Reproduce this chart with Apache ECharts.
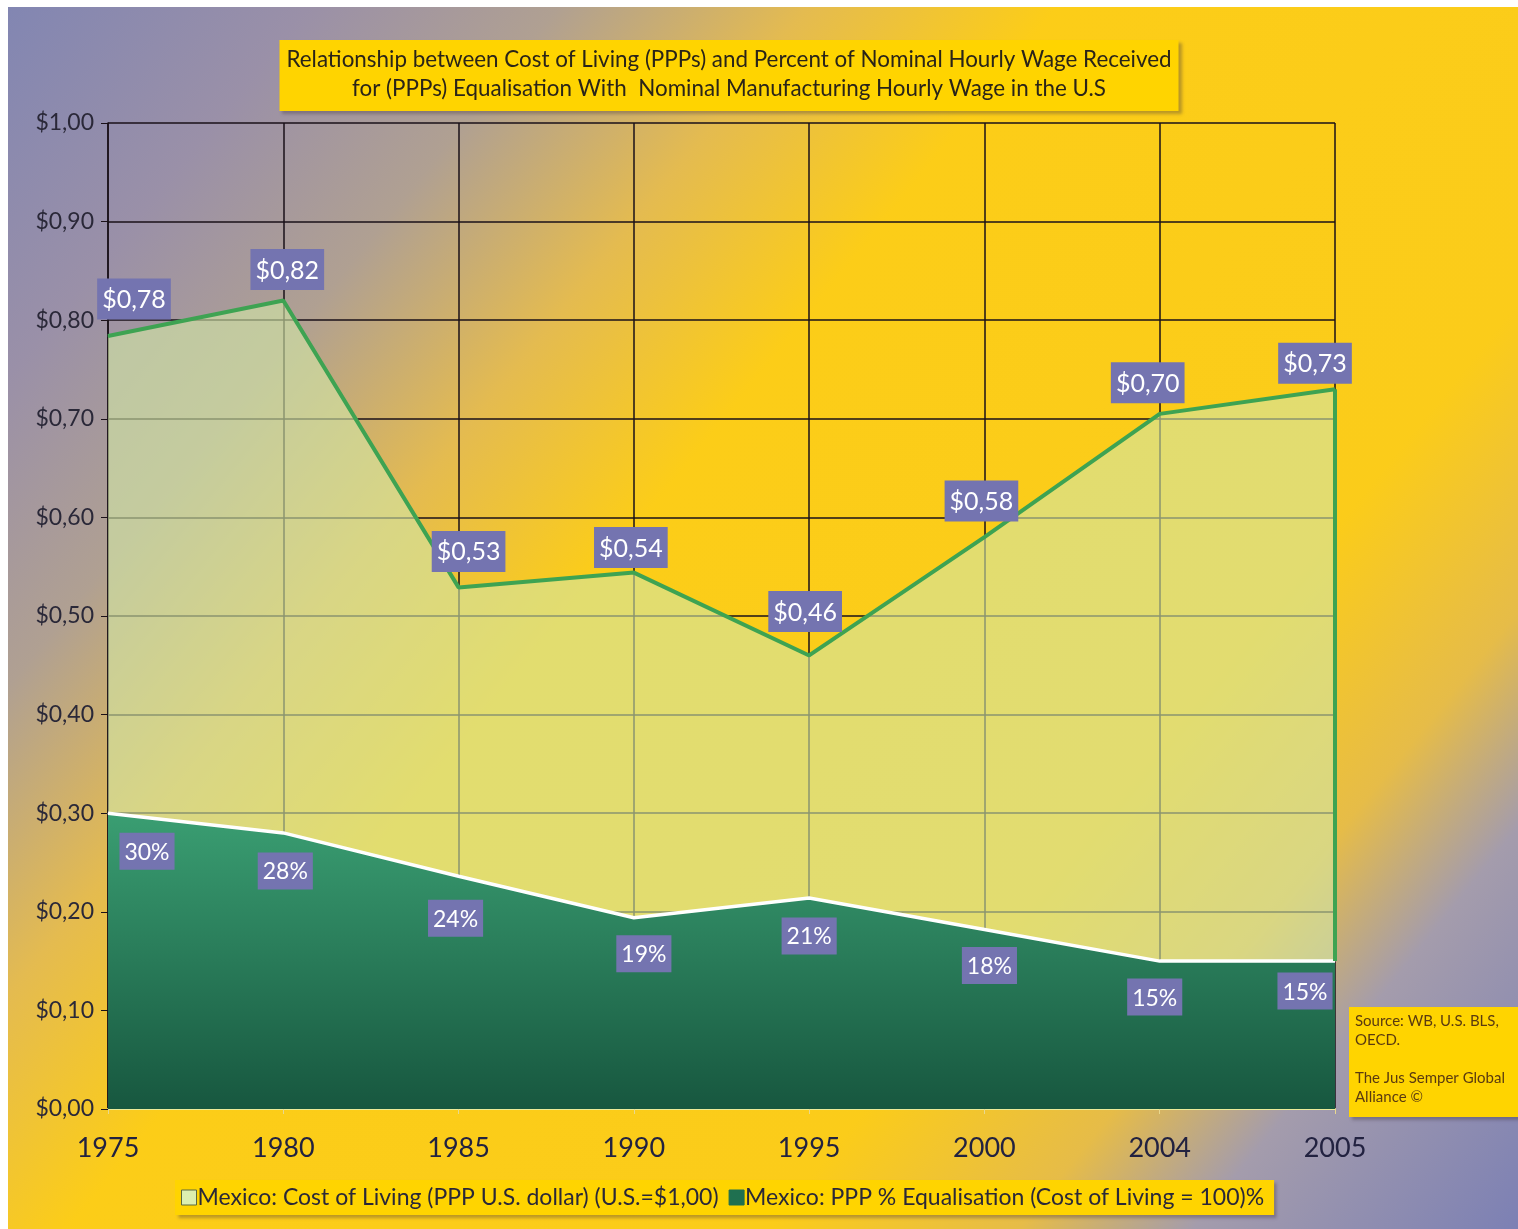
<!DOCTYPE html>
<html>
<head>
<meta charset="UTF-8">
<title>Mexico PPP</title>
<script src="https://cdn.jsdelivr.net/npm/echarts@6/dist/echarts.min.js"></script>
<style>
    html, body { margin: 0; padding: 0; background: #fff; }
    #chart {
        position: absolute;
        left: 8px;
        top: 7px;
        width: 1510px;
        height: 1222px;
    }
</style>
</head>
<body>
<div id="chart"></div>
<script>
var years = ['1975', '1980', '1985', '1990', '1995', '2000', '2004', '2005'];
var costOfLiving = [0.784, 0.82, 0.529, 0.544, 0.46, 0.58, 0.705, 0.73];
var equalisation = [0.30, 0.28, 0.236, 0.194, 0.214, 0.182, 0.15, 0.15];
var yTicks = [0, 0.1, 0.2, 0.3, 0.4, 0.5, 0.6, 0.7, 0.8, 0.9, 1.0];
var legendNames = [
    'Mexico: Cost of Living (PPP U.S. dollar) (U.S.=$1,00)',
    'Mexico: PPP % Equalisation (Cost of Living = 100)%'
];

// label nudges, so the boxes sit where the original puts them
var costOffsets = [[26, -6], [4, 0], [10, -5], [-3, 6], [-4, -13], [-3, -5], [-12, 0], [-20, 5]];
var pctOffsets = [[39, 0], [2, 0], [-3, 4], [10, -2], [0, 0], [5, -2], [-5, -2], [-30, -8]];

var money = function(v) {
    return '$' + v.toFixed(2).replace('.', ',');
};

var chart = echarts.init(document.getElementById('chart'));

var labelBox = {
    color: '#fff',
    backgroundColor: '#7474b0',
    fontFamily: 'Lato'
};

var costData = costOfLiving.map(function(v, i) {
    return { value: v, label: { offset: costOffsets[i] } };
});
var pctData = equalisation.map(function(v, i) {
    return { value: v, label: { offset: pctOffsets[i] } };
});

var boxShadow = {
    shadowColor: 'rgba(60,50,60,0.35)',
    shadowBlur: 3,
    shadowOffsetX: 3,
    shadowOffsetY: 3
};

var option = {
    backgroundColor: new echarts.graphic.LinearGradient(0, 0, 1, 1, [
        { offset: 0, color: '#8286b2' },
        { offset: 0.12, color: '#9a90a8' },
        { offset: 0.22, color: '#b0a092' },
        { offset: 0.32, color: '#e4bb50' },
        { offset: 0.42, color: '#fccd18' },
        { offset: 0.7, color: '#fbcc1a' },
        { offset: 0.8, color: '#e6bc48' },
        { offset: 0.87, color: '#a49cac' },
        { offset: 1, color: '#7c80b4' }
    ]),
    title: Object.assign({
        text: 'Relationship between Cost of Living (PPPs) and Percent of Nominal Hourly Wage Received\nfor (PPPs) Equalisation With  Nominal Manufacturing Hourly Wage in the U.S',
        left: 714,
        top: 33,
        textAlign: 'center',
        padding: [5, 7, 8, 7],
        backgroundColor: '#ffd400',
        textStyle: {
            fontFamily: 'Lato',
            fontWeight: 'normal',
            fontSize: 22.4,
            lineHeight: 29,
            color: '#2a2418'
        }
    }, boxShadow),
    legend: Object.assign({
        left: 167,
        top: 1173,
        padding: [6, 10, 6, 6],
        itemGap: 10,
        itemWidth: 15,
        itemHeight: 15,
        icon: 'rect',
        backgroundColor: '#ffd400',
        textStyle: {
            fontFamily: 'Lato',
            fontSize: 23,
            color: '#2a2838',
            padding: [0, 0, 0, -4]
        },
        data: [
            { name: legendNames[0], itemStyle: { color: '#dcefb0', borderColor: '#5a6a40', borderWidth: 1 } },
            { name: legendNames[1], itemStyle: { color: '#1f7050', borderColor: '#1f7050', borderWidth: 1 } }
        ]
    }, boxShadow),
    grid: {
        left: 100,
        right: 183,
        top: 116,
        bottom: 120
    },
    xAxis: {
        type: 'category',
        data: years,
        boundaryGap: false,
        axisLine: { lineStyle: { color: '#ecec9a', width: 2 } },
        axisTick: { show: true, length: 5, lineStyle: { color: '#e8d890' } },
        axisLabel: {
            fontFamily: 'Lato',
            fontSize: 27,
            color: '#222240',
            margin: 26
        },
        splitLine: { show: true, lineStyle: { color: '#1a1018', width: 1.5 } }
    },
    yAxis: {
        type: 'value',
        min: yTicks[0],
        max: yTicks[yTicks.length - 1],
        interval: 0.1,
        axisLine: { show: true, lineStyle: { color: '#1a1018', width: 1.5 } },
        axisTick: { show: true, length: 7, lineStyle: { color: '#1a1018' } },
        axisLabel: {
            fontFamily: 'Lato',
            fontSize: 23,
            color: '#2a2838',
            margin: 14,
            formatter: money
        },
        splitLine: { show: true, lineStyle: { color: '#1a1018', width: 1.5 } }
    },
    series: [
        {
            name: legendNames[0],
            type: 'line',
            data: costData,
            symbol: 'circle',
            symbolSize: 1,
            showSymbol: true,
            lineStyle: { color: '#3ea352', width: 4 },
            itemStyle: { color: '#3ea352' },
            areaStyle: { color: 'rgba(210,231,166,0.88)' },
            label: Object.assign({
                show: true,
                position: 'top',
                distance: 10,
                fontSize: 25,
                padding: [9, 5, 7, 5],
                formatter: function(p) { return money(p.value); }
            }, labelBox),
            markLine: {
                silent: true,
                symbol: 'none',
                label: { show: false },
                lineStyle: { color: '#3ea352', width: 4, type: 'solid' },
                data: [[
                    { coord: [years[7], costOfLiving[7]] },
                    { coord: [years[7], equalisation[7]] }
                ]]
            },
            z: 2
        },
        {
            name: legendNames[1],
            type: 'line',
            data: pctData,
            symbol: 'circle',
            symbolSize: 1,
            showSymbol: true,
            lineStyle: { color: '#ffffff', width: 3.5 },
            itemStyle: { color: '#ffffff' },
            areaStyle: {
                opacity: 1,
                color: new echarts.graphic.LinearGradient(0, 0, 0, 1, [
                    { offset: 0, color: '#3a9e72' },
                    { offset: 1, color: '#17573f' }
                ])
            },
            label: Object.assign({
                show: true,
                position: 'bottom',
                distance: 19,
                fontSize: 23,
                padding: [8, 5, 6, 5],
                formatter: function(p) { return Math.round(p.value * 100) + '%'; }
            }, labelBox),
            z: 3
        }
    ],
    graphic: [
        {
            type: 'group',
            left: 1341,
            top: 1000,
            children: [
                {
                    type: 'rect',
                    shape: { x: 0, y: 0, width: 169, height: 110 },
                    style: Object.assign({ fill: '#ffd400' }, boxShadow)
                },
                {
                    type: 'text',
                    x: 6,
                    y: 5,
                    style: {
                        text: 'Source: WB, U.S. BLS,\nOECD.\n\nThe Jus Semper Global\nAlliance \u00a9',
                        fontFamily: 'Lato',
                        fontSize: 15,
                        lineHeight: 19,
                        fill: '#5a3a10'
                    }
                }
            ]
        }
    ]
};

chart.setOption(option);
</script>
</body>
</html>
